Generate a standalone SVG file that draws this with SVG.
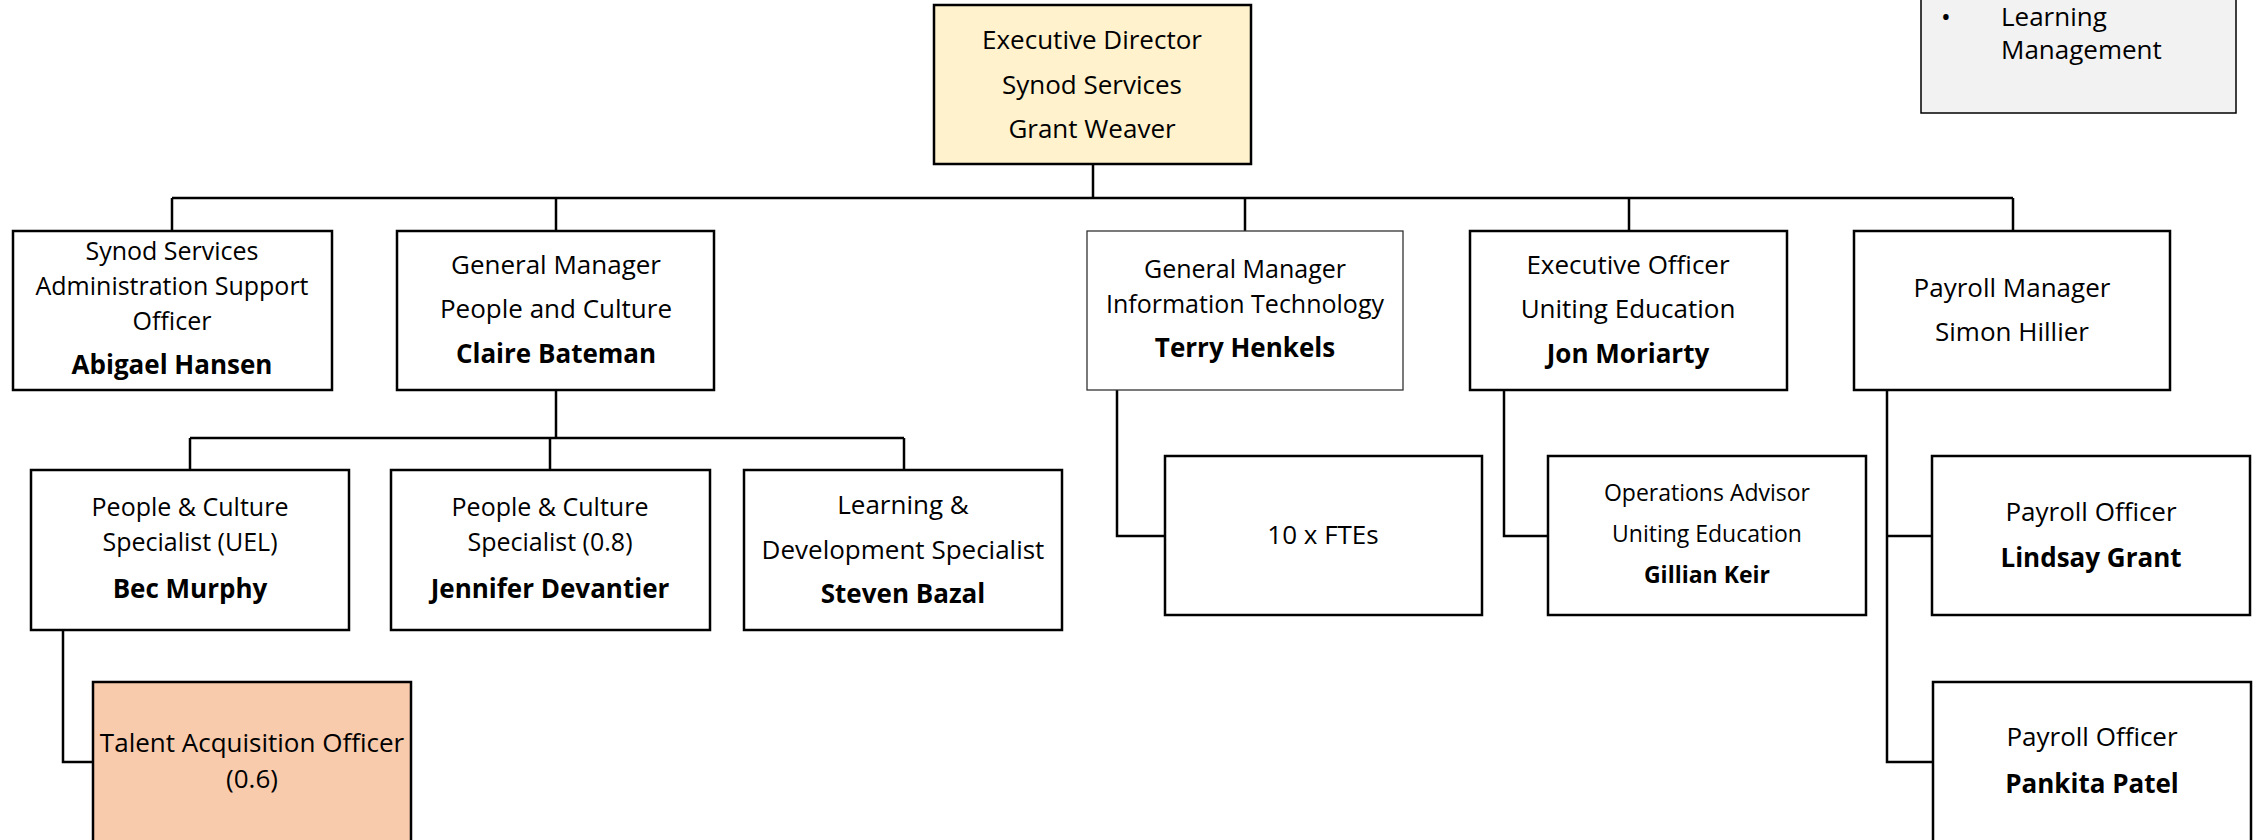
<svg xmlns="http://www.w3.org/2000/svg" width="2256" height="840" viewBox="0 0 2256 840">
<style>
.box{fill:#ffffff;stroke:#000000;stroke-width:2.5}
.thin{fill:#ffffff;stroke:#333333;stroke-width:1.3}
.exec{fill:#fff2cc;stroke:#000000;stroke-width:2.5}
.talent{fill:#f8cbad;stroke:#000000;stroke-width:2.5}
.note{fill:#f2f2f2;stroke:#000000;stroke-width:1.5}
.t{font-family:"Open Sans",Lato,sans-serif;font-size:26px;fill:#000000;text-anchor:middle}
.m{font-size:25px}
.s{font-size:23px}
.b{font-weight:bold}
.l{text-anchor:start}
.conn{fill:none;stroke:#000000;stroke-width:2.5}
</style>
<rect x="0" y="0" width="2256" height="840" fill="#ffffff"/>
<g id="connectors">
<path class="conn" d="M1093,164 V198 M172,198 H2013 M172,198 V231 M556,198 V231 M1245,198 V231 M1629,198 V231 M2013,198 V231"/>
<path class="conn" d="M556,390 V438 M190,438 H904 M190,438 V470 M550,438 V470 M904,438 V470"/>
<path class="conn" d="M63,630 V762 H93"/>
<path class="conn" d="M1117,390 V536 H1165"/>
<path class="conn" d="M1504,390 V536 H1548"/>
<path class="conn" d="M1887,390 V762 H1933 M1887,536 H1932"/>
</g>
<g id="note">
<rect class="note" x="1921" y="-10" width="315" height="123"/>
<text class="t l" x="1941" y="26">•</text>
<text class="t l" x="2001" y="26">Learning</text>
<text class="t l" x="2001" y="59">Management</text>
</g>
<g id="exec">
<rect class="exec" x="934" y="5" width="317" height="159"/>
<text class="t" x="1092" y="49">Executive Director</text>
<text class="t" x="1092" y="94">Synod Services</text>
<text class="t" x="1092" y="138">Grant Weaver</text>
</g>
<g id="admin">
<rect class="box" x="13" y="231" width="319" height="159"/>
<text class="t m" x="172" y="260">Synod Services</text>
<text class="t m" x="172" y="295">Administration Support</text>
<text class="t m" x="172" y="330">Officer</text>
<text class="t b" x="172" y="374">Abigael Hansen</text>
</g>
<g id="gm-pc">
<rect class="box" x="397" y="231" width="317" height="159"/>
<text class="t" x="556" y="274">General Manager</text>
<text class="t" x="556" y="318">People and Culture</text>
<text class="t b" x="556" y="363">Claire Bateman</text>
</g>
<g id="gm-it">
<rect class="thin" x="1087" y="231" width="316" height="159"/>
<text class="t m" x="1245" y="278">General Manager</text>
<text class="t m" x="1245" y="313">Information Technology</text>
<text class="t b" x="1245" y="357">Terry Henkels</text>
</g>
<g id="eo-ue">
<rect class="box" x="1470" y="231" width="317" height="159"/>
<text class="t" x="1628" y="274">Executive Officer</text>
<text class="t" x="1628" y="318">Uniting Education</text>
<text class="t b" x="1628" y="363">Jon Moriarty</text>
</g>
<g id="payroll-mgr">
<rect class="box" x="1854" y="231" width="316" height="159"/>
<text class="t" x="2012" y="297">Payroll Manager</text>
<text class="t" x="2012" y="341">Simon Hillier</text>
</g>
<g id="pc-uel">
<rect class="box" x="31" y="470" width="318" height="160"/>
<text class="t m" x="190" y="516">People &amp; Culture</text>
<text class="t m" x="190" y="551">Specialist (UEL)</text>
<text class="t b" x="190" y="598">Bec Murphy</text>
</g>
<g id="pc-08">
<rect class="box" x="391" y="470" width="319" height="160"/>
<text class="t m" x="550" y="516">People &amp; Culture</text>
<text class="t m" x="550" y="551">Specialist (0.8)</text>
<text class="t b" x="550" y="598">Jennifer Devantier</text>
</g>
<g id="ld">
<rect class="box" x="744" y="470" width="318" height="160"/>
<text class="t" x="903" y="514">Learning &amp;</text>
<text class="t" x="903" y="559">Development Specialist</text>
<text class="t b" x="903" y="603">Steven Bazal</text>
</g>
<g id="talent">
<rect class="talent" x="93" y="682" width="318" height="170"/>
<text class="t" x="252" y="752">Talent Acquisition Officer</text>
<text class="t" x="252" y="788">(0.6)</text>
</g>
<g id="ftes">
<rect class="box" x="1165" y="456" width="317" height="159"/>
<text class="t" x="1323" y="544">10 x FTEs</text>
</g>
<g id="ops">
<rect class="box" x="1548" y="456" width="318" height="159"/>
<text class="t s" x="1707" y="501">Operations Advisor</text>
<text class="t s" x="1707" y="542">Uniting Education</text>
<text class="t s b" x="1707" y="583">Gillian Keir</text>
</g>
<g id="payroll-1">
<rect class="box" x="1932" y="456" width="318" height="159"/>
<text class="t" x="2091" y="521">Payroll Officer</text>
<text class="t b" x="2091" y="567">Lindsay Grant</text>
</g>
<g id="payroll-2">
<rect class="box" x="1933" y="682" width="318" height="170"/>
<text class="t" x="2092" y="746">Payroll Officer</text>
<text class="t b" x="2092" y="793">Pankita Patel</text>
</g>
</svg>
